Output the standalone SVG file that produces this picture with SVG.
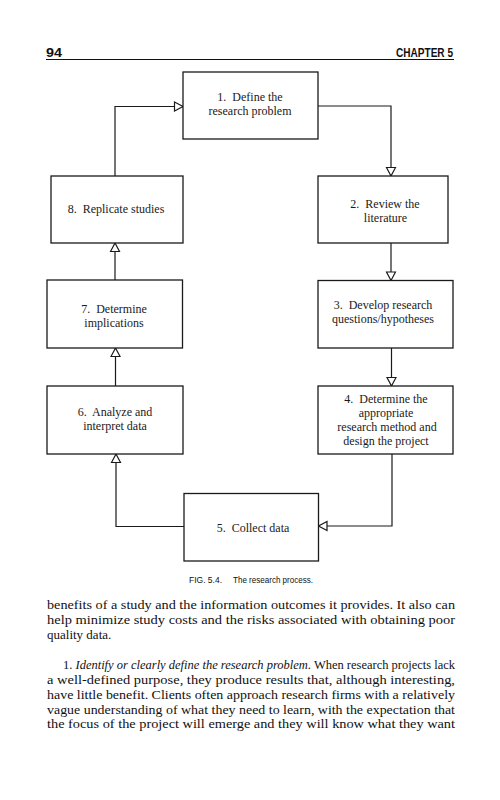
<svg xmlns="http://www.w3.org/2000/svg" width="500" height="800" viewBox="0 0 500 800">
<defs>
<style>
.box{fill:#fff;stroke:#1a1a1a;stroke-width:1.3}
.lbl{font-family:"Liberation Serif","Times New Roman",serif;font-size:12px;fill:#1a1a1a;text-anchor:middle;white-space:pre}
.con{fill:none;stroke:#1a1a1a;stroke-width:1.2}
.hdr{font-family:"Liberation Sans",Arial,sans-serif;font-size:12px;font-weight:bold;fill:#111}
.cap{font-family:"Liberation Sans",Arial,sans-serif;font-size:9.5px;fill:#111}
.body{font-family:"Liberation Serif","Times New Roman",serif;font-size:13px;fill:#111}
</style>
<marker id="arr" viewBox="-1 -1 11 11" refX="8.5" refY="4.5" markerWidth="11" markerHeight="11" markerUnits="userSpaceOnUse" orient="auto" overflow="visible">
<path d="M0,0 L8.5,4.5 L0,9 Z" fill="#fff" stroke="#1a1a1a" stroke-width="1.2"/>
</marker>
</defs>
<rect width="500" height="800" fill="#fff"/>

<g id="header">
<text class="hdr" x="46" y="57" textLength="16" lengthAdjust="spacingAndGlyphs">94</text>
<text class="hdr" x="396" y="57" textLength="57" lengthAdjust="spacingAndGlyphs">CHAPTER 5</text>
<line x1="46" y1="59.5" x2="454" y2="59.5" stroke="#111" stroke-width="1"/>
</g>

<g id="connectors">
<path class="con" d="M318,106 H391 V176" marker-end="url(#arr)"/>
<path class="con" d="M391,243 V280.5" marker-end="url(#arr)"/>
<path class="con" d="M391.5,348 V386" marker-end="url(#arr)"/>
<path class="con" d="M392,454 V526 H318.5" marker-end="url(#arr)"/>
<path class="con" d="M184,526.5 H116 V454" marker-end="url(#arr)"/>
<path class="con" d="M115.5,386 V348" marker-end="url(#arr)"/>
<path class="con" d="M115,280 V243" marker-end="url(#arr)"/>
<path class="con" d="M115,176 V106.5 H183" marker-end="url(#arr)"/>
</g>

<g id="n1">
<rect class="box" x="183" y="72" width="135" height="67"/>
<text class="lbl" x="250" y="101">1.  Define the</text>
<text class="lbl" x="250" y="115">research problem</text>
</g>
<g id="n2">
<rect class="box" x="318" y="176" width="130" height="67"/>
<text class="lbl" x="385" y="208">2.  Review the</text>
<text class="lbl" x="385.5" y="222">literature</text>
</g>
<g id="n3">
<rect class="box" x="318" y="280.5" width="135" height="67.5"/>
<text class="lbl" x="383" y="309">3.  Develop research</text>
<text class="lbl" x="383" y="323">questions/hypotheses</text>
</g>
<g id="n4">
<rect class="box" x="318" y="386" width="135" height="68"/>
<text class="lbl" x="386" y="403">4.  Determine the</text>
<text class="lbl" x="386" y="417">appropriate</text>
<text class="lbl" x="387" y="431">research method and</text>
<text class="lbl" x="386" y="444.5">design the project</text>
</g>
<g id="n5">
<rect class="box" x="184" y="493.5" width="134.5" height="67.5"/>
<text class="lbl" x="253" y="532">5.  Collect data</text>
</g>
<g id="n6">
<rect class="box" x="47" y="386" width="136" height="68"/>
<text class="lbl" x="115" y="416">6.  Analyze and</text>
<text class="lbl" x="115" y="429.5">interpret data</text>
</g>
<g id="n7">
<rect class="box" x="47" y="280" width="135.5" height="68"/>
<text class="lbl" x="114" y="313">7.  Determine</text>
<text class="lbl" x="114" y="327">implications</text>
</g>
<g id="n8">
<rect class="box" x="51" y="176" width="132" height="67"/>
<text class="lbl" x="116" y="213">8.  Replicate studies</text>
</g>

<g id="caption">
<text class="cap" x="189" y="583" textLength="33" lengthAdjust="spacingAndGlyphs">FIG. 5.4.</text>
<text class="cap" x="233" y="583" textLength="80" lengthAdjust="spacingAndGlyphs">The research process.</text>
</g>

<g id="body">
<text class="body" x="47" y="609" textLength="408" lengthAdjust="spacingAndGlyphs">benefits of a study and the information outcomes it provides. It also can</text>
<text class="body" x="47" y="624" textLength="408" lengthAdjust="spacingAndGlyphs">help minimize study costs and the risks associated with obtaining poor</text>
<text class="body" x="47" y="639">quality data.</text>
<text class="body" x="63" y="669" textLength="392" lengthAdjust="spacingAndGlyphs">1. <tspan font-style="italic">Identify or clearly define the research problem</tspan>. When research projects lack</text>
<text class="body" x="47" y="684" textLength="408" lengthAdjust="spacingAndGlyphs">a well-defined purpose, they produce results that, although interesting,</text>
<text class="body" x="47" y="699" textLength="408" lengthAdjust="spacingAndGlyphs">have little benefit. Clients often approach research firms with a relatively</text>
<text class="body" x="47" y="713.5" textLength="408" lengthAdjust="spacingAndGlyphs">vague understanding of what they need to learn, with the expectation that</text>
<text class="body" x="47" y="728" textLength="408" lengthAdjust="spacingAndGlyphs">the focus of the project will emerge and they will know what they want</text>
</g>
</svg>
